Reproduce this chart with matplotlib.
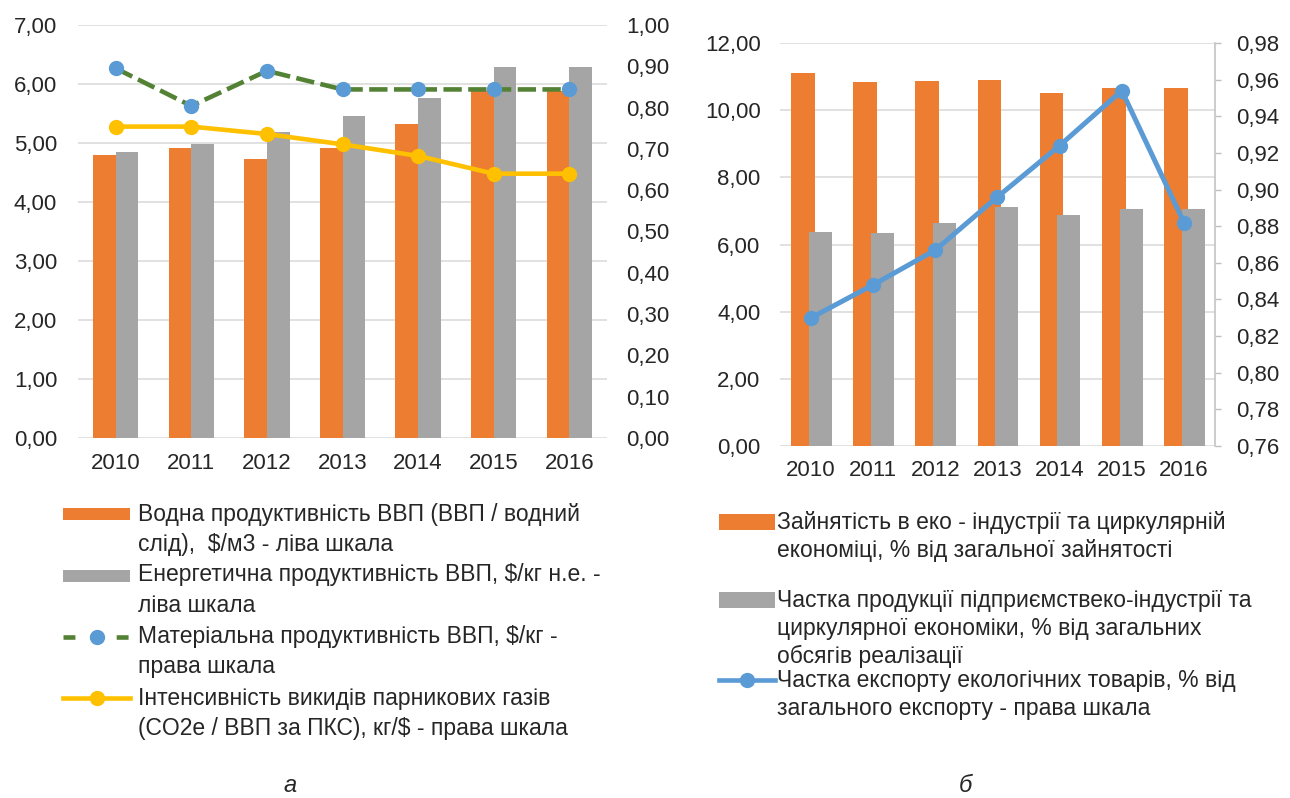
import matplotlib

matplotlib.use("Agg")

import matplotlib.pyplot as plt
from matplotlib.lines import Line2D
from matplotlib.patches import Rectangle
from matplotlib.ticker import FuncFormatter, MultipleLocator
import numpy as np

plt.rcParams["font.family"] = ["Liberation Sans", "DejaVu Sans"]
plt.rcParams["text.color"] = "#262626"
plt.rcParams["xtick.color"] = "#262626"
plt.rcParams["ytick.color"] = "#262626"

# --- data -------------------------------------------------------------
years = ["2010", "2011", "2012", "2013", "2014", "2015", "2016"]

# chart a
water_prod = [4.79, 4.92, 4.73, 4.92, 5.33, 5.88, 5.88]
energy_prod = [4.85, 4.99, 5.19, 5.45, 5.77, 6.29, 6.29]
material_prod = [0.895, 0.804, 0.889, 0.844, 0.844, 0.844, 0.844]
ghg_intensity = [0.754, 0.754, 0.736, 0.711, 0.683, 0.640, 0.640]

# chart b
eco_employment = [11.12, 10.83, 10.86, 10.91, 10.50, 10.65, 10.65]
eco_sales_share = [6.38, 6.34, 6.63, 7.13, 6.88, 7.05, 7.05]
eco_export_share = [0.830, 0.848, 0.867, 0.896, 0.924, 0.954, 0.882]

legend_a = [
    "Водна продуктивність ВВП (ВВП / водний\nслід),  $/м3 - ліва шкала",
    "Енергетична продуктивність ВВП, $/кг н.е. -\nліва шкала",
    "Матеріальна продуктивність ВВП, $/кг -\nправа шкала",
    "Інтенсивність викидів парникових газів\n(CO2e / ВВП за ПКС), кг/$ - права шкала",
]
legend_b = [
    "Зайнятість в еко - індустрії та циркулярній\nекономіці, % від загальної зайнятості",
    "Частка продукції підприємствеко-індустрії та\nциркулярної економіки, % від загальних\nобсягів реалізації",
    "Частка експорту екологічних товарів, % від\nзагального експорту - права шкала",
]

ORANGE = "#ED7D31"
GRAY = "#A5A5A5"
GREEN = "#548235"
BLUE = "#5B9BD5"
YELLOW = "#FFC000"
GRID = "#D9D9D9"

W, H = 1290, 798
fig = plt.figure(figsize=(W / 100, H / 100), dpi=100)


def fx(x):
    return x / W


def fy(y):
    return 1 - y / H


def comma(decimals):
    return FuncFormatter(lambda v, _: f"{v:.{decimals}f}".replace(".", ","))


x = np.arange(len(years))
DASH = (0, (4, 1.4))

# --- chart a ----------------------------------------------------------
ax1 = fig.add_axes([fx(78), fy(438), fx(607) - fx(78), fy(25) - fy(438)])
ax1.bar(x - 0.15, water_prod, width=0.3, color=ORANGE, zorder=2)
ax1.bar(x + 0.15, energy_prod, width=0.3, color=GRAY, zorder=2)
ax1.set_xlim(-0.5, 6.5)
ax1.set_ylim(0, 7)
ax1.yaxis.set_major_locator(MultipleLocator(1))
ax1.yaxis.set_major_formatter(comma(2))
ax1.grid(axis="y", color=GRID, lw=1.1)
ax1.set_axisbelow(True)
ax1.set_xticks(x, years)
ax1.tick_params(axis="y", length=0, pad=15, labelsize=16)
ax1.tick_params(axis="x", length=0, pad=11, labelsize=16)
for s in ax1.spines.values():
    s.set_visible(False)

ax1r = ax1.twinx()
ax1r.plot(x, material_prod, color=GREEN, lw=3.3, ls=DASH,
          marker="o", ms=10, mfc=BLUE, mec=BLUE, zorder=3)
ax1r.plot(x, ghg_intensity, color=YELLOW, lw=3.3, marker="o", ms=10,
          mfc=YELLOW, mec=YELLOW, zorder=3)
ax1r.set_ylim(0, 1)
ax1r.yaxis.set_major_locator(MultipleLocator(0.1))
ax1r.yaxis.set_major_formatter(comma(2))
ax1r.tick_params(axis="y", length=0, pad=14, labelsize=16)
for s in ax1r.spines.values():
    s.set_visible(False)

# --- chart b ----------------------------------------------------------
ax2 = fig.add_axes([fx(780), fy(446), fx(1215) - fx(780), fy(43) - fy(446)])
ax2.bar(x - 0.13, eco_employment, width=0.38, color=ORANGE, zorder=2)
ax2.bar(x + 0.15, eco_sales_share, width=0.37, color=GRAY, zorder=2)
ax2.set_xlim(-0.5, 6.5)
ax2.set_ylim(0, 12)
ax2.yaxis.set_major_locator(MultipleLocator(2))
ax2.yaxis.set_major_formatter(comma(2))
ax2.grid(axis="y", color=GRID, lw=1.1)
ax2.set_axisbelow(True)
ax2.set_xticks(x, years)
ax2.tick_params(axis="y", length=0, pad=14, labelsize=16)
ax2.tick_params(axis="x", length=0, pad=10, labelsize=16)
for s in ax2.spines.values():
    s.set_visible(False)

ax2r = ax2.twinx()
ax2r.plot(x, eco_export_share, color=BLUE, lw=3.6, marker="o", ms=10,
          mfc=BLUE, mec=BLUE, zorder=3)
ax2r.set_ylim(0.76, 0.98)
ax2r.yaxis.set_major_locator(MultipleLocator(0.02))
ax2r.yaxis.set_major_formatter(comma(2))
ax2r.tick_params(axis="y", length=4, width=1, color="#BFBFBF", pad=11,
                 labelsize=16)
for name, s in ax2r.spines.items():
    s.set_visible(name == "right")
ax2r.spines["right"].set_color("#BFBFBF")
ax2r.spines["right"].set_linewidth(1.1)


# --- legends (drawn by hand to keep Excel-like layout) ----------------
def legend_text(x0, y0, label, step):
    for i, line in enumerate(label.split("\n")):
        fig.text(fx(x0), fy(y0 + i * step), line, fontsize=16.5,
                 va="center", ha="left")


def rect_handle(x0, x1, yc, h, color):
    fig.add_artist(Rectangle((fx(x0), fy(yc + h / 2)), fx(x1) - fx(x0),
                             fy(yc - h / 2) - fy(yc + h / 2),
                             transform=fig.transFigure, color=color, lw=0))


def line_handle(x0, x1, yc, color, mcolor, ls):
    xm = (x0 + x1) / 2
    fig.add_artist(Line2D([fx(x0), fx(xm), fx(x1)], [fy(yc)] * 3,
                          transform=fig.transFigure, color=color, lw=3.3,
                          ls=ls, marker="o", ms=10, markevery=[1],
                          mfc=mcolor, mec=mcolor))


rect_handle(63, 130, 514, 12, ORANGE)
legend_text(138, 515, legend_a[0], 30)
rect_handle(63, 130, 576, 12, GRAY)
legend_text(138, 575, legend_a[1], 30)
line_handle(63, 130, 637, GREEN, BLUE, (0, (2.6, 3.2)))
legend_text(138, 637, legend_a[2], 30)
line_handle(63, 130, 698, YELLOW, YELLOW, "-")
legend_text(138, 698, legend_a[3], 30)

rect_handle(719, 775, 522, 16, ORANGE)
legend_text(777, 522, legend_b[0], 28)
rect_handle(719, 775, 600, 16, GRAY)
legend_text(777, 600, legend_b[1], 28)
line_handle(719, 775, 680, BLUE, BLUE, "-")
legend_text(777, 680, legend_b[2], 28)

fig.text(fx(290), fy(785), "а", fontsize=17, style="italic",
         ha="center", va="center")
fig.text(fx(965), fy(785), "б", fontsize=17, style="italic",
         ha="center", va="center")

fig.savefig("out.png", dpi=100)
